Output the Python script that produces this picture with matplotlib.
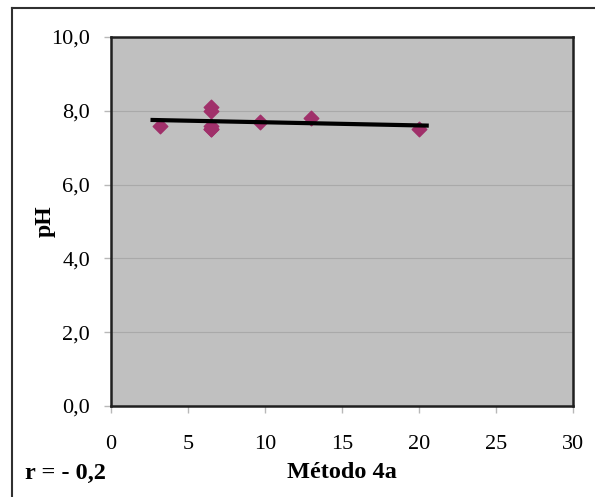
import numpy as np
import matplotlib.pyplot as plt
from matplotlib.lines import Line2D

# data
metodo = [3.2, 6.5, 6.5, 6.5, 6.5, 6.5, 9.7, 13.0, 20.0]
ph = [7.6, 8.1, 8.0, 7.6, 7.5, 7.5, 7.7, 7.8, 7.5]
yticks = [0, 2, 4, 6, 8, 10]
ylabels = ["0,0", "2,0", "4,0", "6,0", "8,0", "10,0"]
xticks = [0, 5, 10, 15, 20, 25, 30]

plt.rcParams['font.family'] = ['Liberation Serif', 'DejaVu Serif']

fig = plt.figure(figsize=(5.95, 4.97), dpi=100)
ax = fig.add_axes([111/595, 1-406/497, (573-111)/595, (406-37)/497])
ax.set_facecolor("#c0c0c0")

# linear trend line (slightly longer than the data span, as in the original)
m, b = np.polyfit(metodo, ph, 1)
xs = np.array([min(metodo) - 0.5, max(metodo) + 0.5])
ax.plot(xs, m*xs + b, color="black", linewidth=3, zorder=3)
ax.scatter(metodo, ph, marker="D", s=55, color="#a0306a", zorder=2)

ax.set_xlim(0, 30)
ax.set_ylim(0, 10)
ax.set_xticks(xticks)
ax.set_yticks(yticks)
ax.set_yticklabels(ylabels)
ax.tick_params(labelsize=16, color="#b8b8b8", length=5, width=1)
ax.tick_params(axis="x", pad=16)
ax.tick_params(axis="y", pad=10)
ax.yaxis.grid(True, color="#a9a9a9", linewidth=0.8)
ax.set_axisbelow(True)
for s in ax.spines.values():
    s.set_linewidth(1.8)
    s.set_color("#202020")

ax.set_ylabel("pH", fontsize=17, fontweight="bold", labelpad=-3)
fig.text(342/595, 1-473/497, "Método 4a", fontsize=17.5, fontweight="bold",
         ha="center", va="center")
fig.text(25/595, 1-473/497, "r = - 0,2", fontsize=17.5, fontweight="bold",
         ha="left", va="center")

# outer frame lines
fig.add_artist(Line2D([12/595, 1], [1-8/497, 1-8/497], color="#303030", linewidth=1.5))
fig.add_artist(Line2D([12/595, 12/595], [0, 1-8/497], color="#303030", linewidth=1.5))

fig.savefig("out.png", dpi=100)
